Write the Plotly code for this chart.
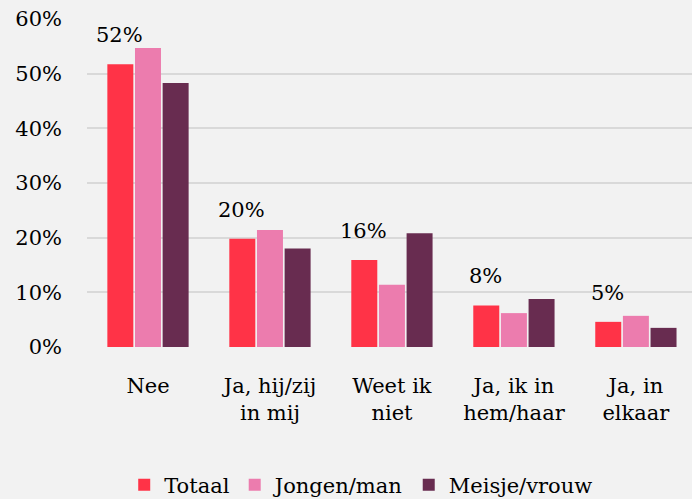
import plotly.graph_objects as go

categories = ["Nee", "Ja, hij/zij<br>in mij", "Weet ik<br>niet", "Ja, ik in<br>hem/haar", "Ja, in<br>elkaar"]
totaal = [51.7, 19.8, 15.9, 7.6, 4.6]
jongen_man = [54.7, 21.4, 11.4, 6.2, 5.7]
meisje_vrouw = [48.3, 18.0, 20.8, 8.8, 3.5]
series_names = ["Totaal", "Jongen/man", "Meisje/vrouw"]
y_ticks = [0, 10, 20, 30, 40, 50, 60]

colors = ["#FF3347", "#EC7CAE", "#682C50"]
FONT = "DejaVu Serif"

fig = go.Figure()
for name, vals, col in zip(series_names, [totaal, jongen_man, meisje_vrouw], colors):
    fig.add_trace(go.Bar(
        x=categories, y=vals, name=name,
        marker=dict(color=col, line=dict(width=0)),
    ))

for cat, v in zip(categories, totaal):
    fig.add_annotation(
        x=cat, y=v, text=f"{round(v)}%", showarrow=False,
        xshift=-28, yshift=29, yanchor="middle",
        font=dict(family=FONT, size=21, color="#000000"),
    )

fig.update_layout(
    width=692, height=499,
    paper_bgcolor="#F2F2F2", plot_bgcolor="#F2F2F2",
    margin=dict(l=87, r=0, t=19, b=152),
    barmode="group", bargap=0.32, bargroupgap=0.06,
    font=dict(family=FONT, size=21, color="#000000"),
    showlegend=True,
    legend=dict(
        orientation="h", xref="container", yref="container",
        x=0.522, xanchor="center", y=0.028, yanchor="middle",
        font=dict(family=FONT, size=21, color="#000000"),
        bgcolor="rgba(0,0,0,0)", itemwidth=30, traceorder="normal",
    ),
    xaxis=dict(
        range=[-0.5, 4.46], showgrid=False, showline=False, zeroline=False,
        ticks="", ticklabelstandoff=24, automargin=False,
        tickfont=dict(family=FONT, size=21, color="#000000"),
    ),
    yaxis=dict(
        range=[0, 60], tickvals=y_ticks, ticktext=[f"{t}%" for t in y_ticks],
        showgrid=True, gridcolor="#D9D9D9", gridwidth=1.5,
        zeroline=False, showline=False, ticks="", ticklabelstandoff=24,
        automargin=False,
        tickfont=dict(family=FONT, size=21, color="#000000"),
    ),
)

fig.write_html(
    "out.html",
    config={"displayModeBar": False},
    post_script="document.body.style.margin='0';document.body.style.overflow='hidden';",
)
